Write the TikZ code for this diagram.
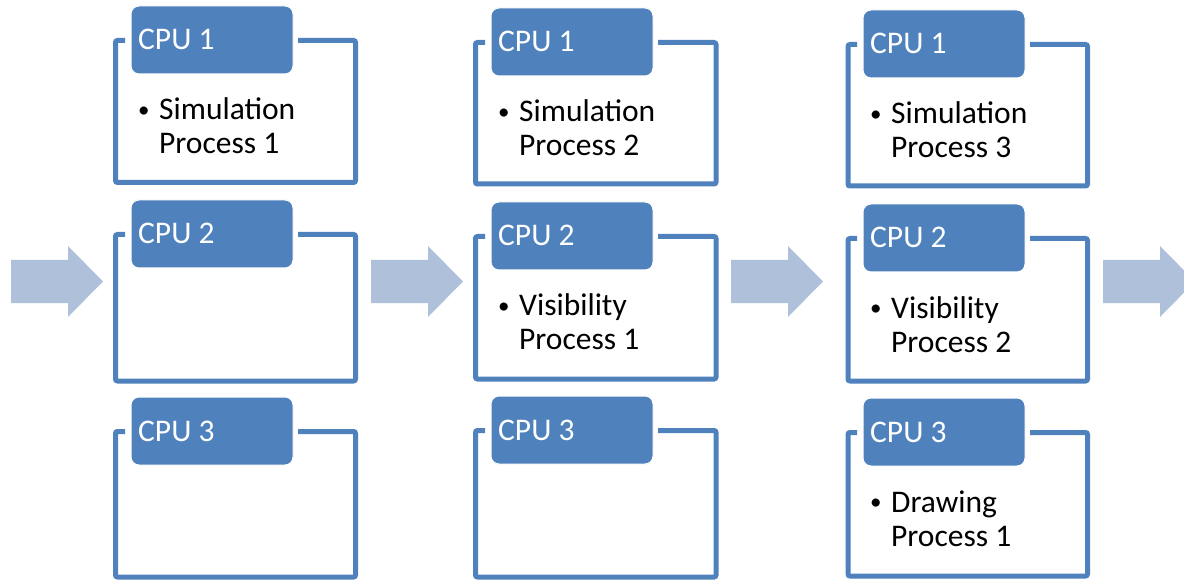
\documentclass[tikz,border=0pt]{standalone}
\usepackage{fontspec}
\setmainfont{Carlito}
\definecolor{cpublue}{HTML}{4F81BD}
\definecolor{arrowblue}{HTML}{AFC0DB}
\tikzset{
  hdr/.style={rectangle, rounded corners=8pt, fill=cpublue, draw=white, line width=1pt,
    minimum width=162pt, minimum height=68pt, inner sep=0pt, outer sep=0pt, anchor=north west},
  hdrtext/.style={text=white, inner sep=0pt, anchor=base west, font=\fontsize{31.5}{34}\selectfont},
  frame/.style={draw=cpublue, line width=5pt, rounded corners=2pt},
  bodytext/.style={text=black, inner sep=0pt, anchor=base west, font=\fontsize{31.5}{34}\selectfont},
  blockarrow/.style={fill=arrowblue, draw=none}
}
\newcommand\cpublock[7]{%
  \node[hdr] (#1) at (#2,#3) {};
  \node[hdrtext] (#1t) at ({#2+7},{#3+44}) {#7};
  \draw[frame] ([xshift=-6pt]#1.west |- 0,{#3+34.5}) -- (#4,{#3+34.5}) -- (#4,#6) -- (#5,#6) -- (#5,{#3+34.5}) -- ([xshift=5pt]#1.east |- 0,{#3+34.5});
}
\newcommand\smallbullet{\raisebox{2.5pt}{\fontsize{23}{23}\selectfont\textbullet}}
\newcommand\bul[2]{\begin{tabular}[t]{@{}l@{}l@{}}\makebox[21pt][l]{\smallbullet}&#1\\&#2\end{tabular}}
\newcommand\blockarrow[1]{%
  \fill[blockarrow] (#1,260) -- ({#1+57},260) -- ({#1+57},246) -- ({#1+92},281.5) -- ({#1+57},317) -- ({#1+57},303) -- (#1,303) -- cycle;
}
\begin{document}
\begin{tikzpicture}[x=1pt,y=-1pt]
\useasboundingbox (0,0) rectangle (1184,580);
\clip (0,0) rectangle (1184,580);
% arrows
\blockarrow{11}
\blockarrow{371}
\blockarrow{731}
\blockarrow{1103}
% column 1
\cpublock{c11}{131}{6}{115.5}{355.5}{182.5}{CPU 1}
\cpublock{c12}{131}{200}{115.5}{355.5}{381}{CPU 2}
\cpublock{c13}{131}{397}{115.5}{355.5}{577}{CPU 3}
% column 2
\cpublock{c21}{491}{8}{475.5}{716}{184}{CPU 1}
\cpublock{c22}{491}{202}{475.5}{716}{379}{CPU 2}
\cpublock{c23}{491}{396}{475.5}{716}{577}{CPU 3}
% column 3
\cpublock{c31}{863}{10}{848}{1087.5}{186}{CPU 1}
\cpublock{c32}{863}{204}{848}{1087.5}{381}{CPU 2}
\cpublock{c33}{863}{398}{848}{1087.5}{576}{CPU 3}
% bodies
\node[bodytext] (b11) at (138,120) {\bul{Simulation}{Process 1}};
\node[bodytext] (b21) at (498,122) {\bul{Simulation}{Process 2}};
\node[bodytext] (b31) at (870,124) {\bul{Simulation}{Process 3}};
\node[bodytext] (b22) at (498,316) {\bul{Visibility}{Process 1}};
\node[bodytext] (b32) at (870,318) {\bul{Visibility}{Process 2}};
\node[bodytext] (b33) at (870,512) {\bul{Drawing}{Process 1}};
\end{tikzpicture}
\end{document}
